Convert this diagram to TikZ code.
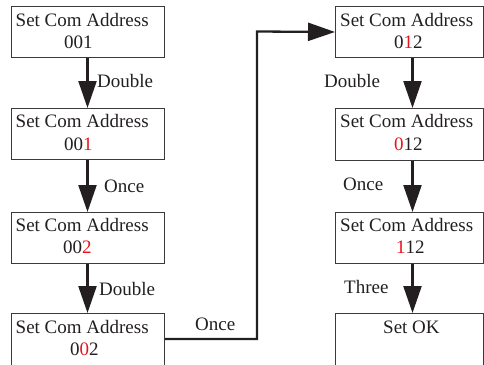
\documentclass[tikz,border=0pt]{standalone}
\usepackage{fontspec}
\setmainfont{Liberation Serif}
\usetikzlibrary{arrows.meta}
\definecolor{boxline}{HTML}{3A3A3A}
\definecolor{ink}{HTML}{231F20}
\definecolor{digred}{HTML}{E8141C}
\begin{document}
\begin{tikzpicture}[x=1pt,y=-1pt,
  box/.style={draw=boxline,line width=1pt,rectangle,inner sep=0pt,anchor=north west},
  lbox/.style={box,minimum width=153pt,minimum height=51pt},
  rbox/.style={box,minimum width=148pt,minimum height=51pt},
  txt/.style={anchor=base west,inner sep=0pt,text=ink,font=\fontsize{19}{22}\selectfont},
  conn/.style={draw=ink,line width=2.3pt,-{Triangle[width=18pt,length=27pt]}},
  plain/.style={draw=ink,line width=2.3pt}]
\useasboundingbox (0,0) rectangle (484,364);
\clip (0,0) rectangle (484,364);
% left column
\node[lbox] (L1) at (11,6) {};
\node[lbox] (L2) at (11,108) {};
\node[lbox] (L3) at (11,212) {};
\node[lbox,minimum height=70pt] (L4) at (11,313) {};
% right column
\node[rbox] (R1) at (335,6) {};
\node[rbox,minimum height=52pt] (R2) at (335,108) {};
\node[rbox] (R3) at (335,212) {};
\node[rbox,minimum height=70pt] (R4) at (335,313) {};
% texts left
\node[txt] (t1a) at (15.5,26) {Set Com Address};
\node[txt] (t1b) at (64,48) {001};
\node[txt] (t2a) at (15.5,127) {Set Com Address};
\node[txt] (t2b) at (64,150) {00\textcolor{digred}{1}};
\node[txt] (t3a) at (15.5,231) {Set Com Address};
\node[txt] (t3b) at (63,253) {00\textcolor{digred}{2}};
\node[txt] (t4a) at (15.5,333) {Set Com Address};
\node[txt] (t4b) at (70,355) {0\textcolor{digred}{0}2};
% texts right
\node[txt] (u1a) at (340,26) {Set Com Address};
\node[txt] (u1b) at (394,48) {0\textcolor{digred}{1}2};
\node[txt] (u2a) at (340,127) {Set Com Address};
\node[txt] (u2b) at (394,150) {\textcolor{digred}{0}12};
\node[txt] (u3a) at (340,231) {Set Com Address};
\node[txt] (u3b) at (396,253) {\textcolor{digred}{1}12};
\node[txt] (u4a) at (383,333) {Set OK};
% connectors left
\draw[conn] ([xshift=-0.5pt]L1.south) -- ([xshift=-0.5pt]L2.north);
\draw[conn] ([xshift=-0.5pt]L2.south) -- ([xshift=-0.5pt]L3.north);
\draw[conn] ([xshift=-0.5pt]L3.south) -- ([xshift=-0.5pt]L4.north);
% connectors right
\draw[conn] ([xshift=3pt]R1.south) -- ([xshift=3pt]R2.north);
\draw[conn] ([xshift=3pt]R2.south) -- ([xshift=3pt]R3.north);
\draw[conn] ([xshift=3pt]R3.south) -- ([xshift=3pt]R4.north);
% long connector
\coordinate (turn) at (257,31.5);
\draw[conn] ([yshift=-26pt]L4.north east) -| (turn) -- (R1.west);
% labels
\node[txt] (d1) at (97,87) {Double};
\node[txt] (o1) at (104,192) {Once};
\node[txt] (d2) at (99,295) {Double};
\node[txt] (o2) at (195,330) {Once};
\node[txt] (d3) at (324,87) {Double};
\node[txt] (o3) at (343,190) {Once};
\node[txt] (th) at (344,293) {Three};
\end{tikzpicture}
\end{document}
